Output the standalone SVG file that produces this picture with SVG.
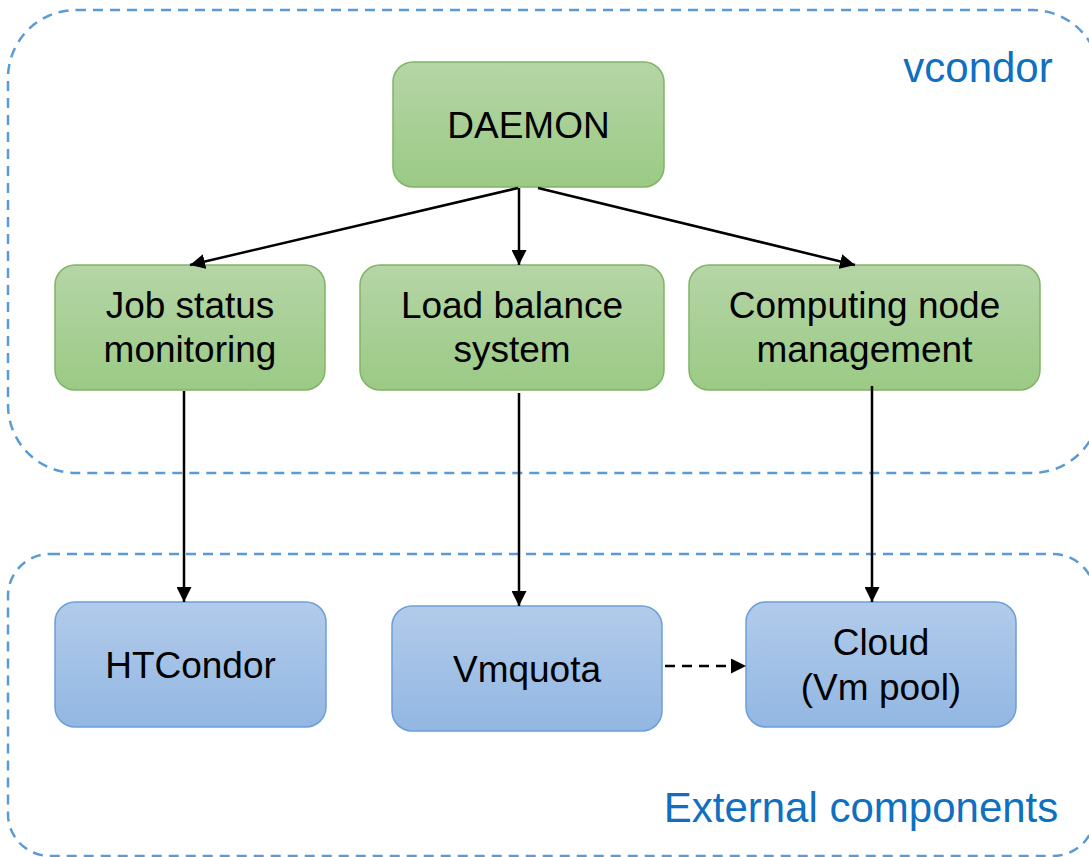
<svg xmlns="http://www.w3.org/2000/svg" width="1089" height="857" viewBox="0 0 1089 857">
<defs>
<linearGradient id="gGreen" x1="0" y1="0" x2="0" y2="1">
<stop offset="0" stop-color="#b5d5a6"/>
<stop offset="1" stop-color="#9bca85"/>
</linearGradient>
<linearGradient id="gBlue" x1="0" y1="0" x2="0" y2="1">
<stop offset="0" stop-color="#b2cbea"/>
<stop offset="1" stop-color="#92b7e2"/>
</linearGradient>
<marker id="arr" viewBox="0 0 10 10" refX="10" refY="5" markerWidth="6" markerHeight="6" markerUnits="strokeWidth" orient="auto">
<path d="M0,0 L10,5 L0,10 Z" fill="#000"/>
</marker>
<style>
.cont{fill:none;stroke:#5b9bd5;stroke-width:2.5;stroke-dasharray:10 7}
.green{fill:url(#gGreen);stroke:#82b366;stroke-width:1.5}
.blue{fill:url(#gBlue);stroke:#6c9fd8;stroke-width:1.5}
.t{font-family:"Liberation Sans",Arial,sans-serif;font-size:37px;fill:#000;text-anchor:middle}
.ct{font-family:"Liberation Sans",Arial,sans-serif;font-size:42px;fill:#0f6fc0;text-anchor:middle}
.c{stroke:#000;stroke-width:2.5;fill:none;marker-end:url(#arr)}
.d{stroke-dasharray:10 7}
</style>
</defs>
<g id="vcondor">
<rect class="cont" x="8" y="10" width="1092" height="463" rx="68" ry="68"/>
<text class="ct" x="978" y="82">vcondor</text>
</g>
<g id="external">
<rect class="cont" x="8" y="554" width="1087" height="302" rx="42" ry="42"/>
<text class="ct" x="861" y="822">External components</text>
</g>
<g id="daemon">
<rect class="green" x="393" y="62" width="271" height="125" rx="20" ry="20"/>
<text class="t" x="528.5" y="138">DAEMON</text>
</g>
<g id="jobstatus">
<rect class="green" x="55" y="265" width="270" height="125" rx="20" ry="20"/>
<text class="t" x="190" y="318">Job status</text>
<text class="t" x="190" y="362">monitoring</text>
</g>
<g id="loadbalance">
<rect class="green" x="360" y="265" width="304" height="125" rx="20" ry="20"/>
<text class="t" x="512" y="318">Load balance</text>
<text class="t" x="512" y="362">system</text>
</g>
<g id="computing">
<rect class="green" x="689" y="265" width="351" height="125" rx="20" ry="20"/>
<text class="t" x="864.5" y="318">Computing node</text>
<text class="t" x="864.5" y="362">management</text>
</g>
<g id="htcondor">
<rect class="blue" x="55" y="602" width="271" height="125" rx="20" ry="20"/>
<text class="t" x="190.5" y="678">HTCondor</text>
</g>
<g id="vmquota">
<rect class="blue" x="392" y="606" width="270" height="125" rx="20" ry="20"/>
<text class="t" x="527" y="682">Vmquota</text>
</g>
<g id="cloud">
<rect class="blue" x="746" y="602" width="270" height="125" rx="20" ry="20"/>
<text class="t" x="881" y="655">Cloud</text>
<text class="t" x="881" y="700">(Vm pool)</text>
</g>
<g id="connectors">
<line class="c" x1="518" y1="188" x2="190" y2="265"/>
<line class="c" x1="519" y1="188" x2="519" y2="265"/>
<line class="c" x1="538" y1="188" x2="855" y2="265"/>
<line class="c" x1="184" y1="391" x2="184" y2="602"/>
<line class="c" x1="519" y1="393" x2="519" y2="606"/>
<line class="c" x1="872" y1="386" x2="872" y2="602"/>
<line class="c d" x1="665" y1="666" x2="746" y2="666"/>
</g>
</svg>
